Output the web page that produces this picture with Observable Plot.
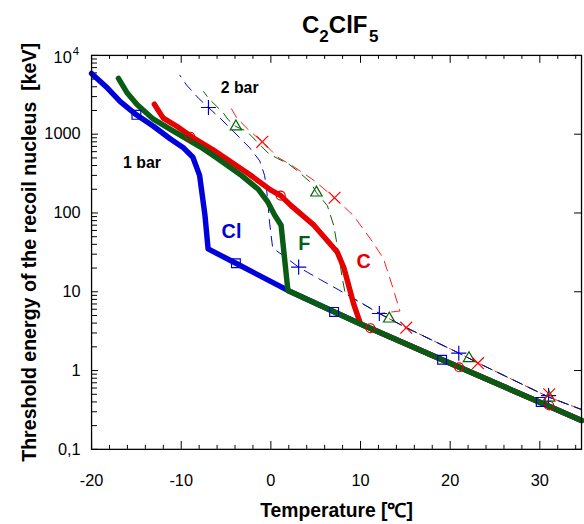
<!DOCTYPE html>
<html>
<head>
<meta charset="utf-8">
<script src="https://cdn.jsdelivr.net/npm/d3@7"></script>
<script src="https://cdn.jsdelivr.net/npm/@observablehq/plot@0.6"></script>
<style>
  body { margin: 0; background: #fff; font-family: "Liberation Sans", Arial, sans-serif; }
  #wrap { position: relative; width: 584px; height: 524px; overflow: hidden; background: #fff; }
  #titlebox { position: relative; width: 584px; height: 46px; }
  #title { position: absolute; left: 302px; top: 13px; font-weight: bold; font-size: 24px; line-height: 24px; white-space: nowrap; color: #000; }
  #title .sub { font-size: 17px; position: relative; top: 9px; }
  #chart svg { display: block; }
</style>
</head>
<body>
<div id="wrap">
  <div id="titlebox"><div id="title">C<span class="sub">2</span>ClF<span class="sub">&#8202;5</span></div></div>
  <div id="chart"></div>
</div>
<script>
// ---- data (x = temperature °C, y = threshold energy keV) ----
const common1bar = [[10, 3.9], [20, 1.24], [30, 0.395], [34.65, 0.232]];
const cl1bar = [[-20, 5900], [-18.2, 3820], [-16.8, 2590], [-15.0, 1760], [-13.1, 1260], [-11.2, 870],
  [-9.8, 680], [-8.7, 510], [-7.95, 300], [-7.35, 93], [-7.0, 35], [-3.9, 23], [1.9, 10.4]];
const f1bar = [[-17, 5100], [-16, 3300], [-14.9, 2360], [-13.1, 1550], [-11.2, 1150], [-9.4, 870],
  [-7.5, 650], [-6.1, 505], [-3.3, 300], [-1.4, 200], [-0.33, 137], [0.4, 95], [1.14, 70], [1.9, 10.4]];
const c1bar = [[-13, 2400], [-12, 1600], [-10.5, 1260], [-8.8, 920], [-6.5, 640], [-2.5, 315],
  [0, 195], [1.1, 166], [2.25, 124], [4.8, 70], [7.4, 32], [8.15, 20], [9.25, 6.9], [10, 3.9]];

const common2bar = [[12.1, 5.3], [15.1, 3.5], [21, 1.66], [23.1, 1.25], [31, 0.46], [34.65, 0.32]];
const cl2bar = [[-10.15, 5600], [-9.4, 4200], [-8.07, 2860], [-6.96, 2180], [-5.67, 1600], [-4.4, 1150],
  [-3.3, 860], [-2.35, 670], [-1.25, 460], [-0.7, 300], [-0.5, 210], [-0.3, 125], [-0.15, 77],
  [0.2, 36], [1.9, 26], [3.1, 20.5], [5.55, 14.2], [8.15, 9.7]];
const f2bar = [[-7.5, 3470], [-6.96, 2860], [-5.3, 1860], [-4.75, 1520], [-3.9, 1250], [-2.7, 1090],
  [-0.33, 580], [0.77, 490], [1.9, 425], [3.0, 340], [4.45, 244], [5.08, 181], [6.3, 124],
  [7.0, 70], [7.4, 39], [7.96, 15], [8.3, 9.4]];
const c2bar = [[-4.4, 2100], [-3.8, 1600], [-2.54, 1150], [-0.96, 800], [0.03, 620], [0.77, 510],
  [2.5, 390], [4.83, 258], [7.1, 156], [9.2, 93], [11.1, 47], [12.55, 26.6], [13.5, 12.3], [14.4, 5.7]];

// markers
const clSquares = [[-15.0, 1760], [-3.9, 23], [7.05, 5.55], [19.1, 1.37], [30.1, 0.40]];
const cCircles = [[-9.0, 930], [1.1, 166], [11.1, 3.45], [21.0, 1.10], [31.05, 0.36]];
const clPlus = [[-6.96, 2180], [3.1, 20.5], [12.1, 5.3], [20.96, 1.66], [30.97, 0.48]];
const fTriangles = [[-3.9, 1250], [5.08, 181], [13.2, 4.55], [22.1, 1.43], [31.05, 0.45]];
const cTimes = [[-0.96, 800], [7.1, 156], [15.1, 3.5], [23.1, 1.24], [31.05, 0.50]];

// ticks
const xMajor = [-20, -10, 0, 10, 20, 30];
const xMajorLabels = ["-20", "-10", "0", "10", "20", "30"];
const xMinor = [-18, -16, -14, -12, -8, -6, -4, -2, 2, 4, 6, 8, 12, 14, 16, 18, 22, 24, 26, 28, 32, 34];
const yMajor = [0.1, 1, 10, 100, 1000];
const yMajorLabels = ["0,1", "1", "10", "100", "1000"];
const yTop = [10000];
const yMinorMult = [2, 3, 4, 5, 6, 7, 8, 9];
const yDecades = [0.1, 1, 10, 100, 1000];

// annotations
const annotations = [
  {x: -14.37, y: 428, text: "1 bar", color: "#000", size: 16},
  {x: -3.48, y: 3850, text: "2 bar", color: "#000", size: 16},
  {x: -4.39, y: 58, text: "Cl", color: "#0000dd", size: 20},
  {x: 3.72, y: 41, text: "F", color: "#0a5c14", size: 20},
  {x: 10.34, y: 24.4, text: "C", color: "#e60000", size: 20}
];

const toPts = a => a.map(([x, y]) => ({x, y}));
const yMinor = yDecades.flatMap(d => yMinorMult.map(m => d * m));

const W = 590, H = 478;
const mL = 92, mR = 3, mT = 9, mB = 71;
const fw = W - mL - mR, fh = H - mT - mB;

const blueT = "#0000dd", greenT = "#0a5c14", redT = "#e60000";
const blueD = "#0000cc", greenD = "#006600", redD = "#ff1a1a";

const chart = Plot.plot({
  width: W, height: H,
  marginLeft: mL, marginRight: mR, marginTop: mT, marginBottom: mB,
  style: {fontFamily: "'Liberation Sans', Arial, sans-serif", background: "#fff", overflow: "visible"},
  x: {type: "linear", domain: [-20, 34.65], axis: null},
  y: {type: "log", domain: [0.1, 10000], axis: null},
  marks: [
    // ticks (inward)
    Plot.tickY(yMajor.concat(yTop), {y: d => d, insetRight: fw - 7, stroke: "#000", strokeWidth: 1}),
    Plot.tickY(yMinor, {y: d => d, insetRight: fw - 6, stroke: "#000", strokeWidth: 1}),
    Plot.tickY(yMajor.concat(yTop), {y: d => d, insetLeft: fw - 7, stroke: "#000", strokeWidth: 1}),
    Plot.tickX(xMajor, {x: d => d, insetTop: fh - 8, stroke: "#000", strokeWidth: 1}),
    Plot.tickX(xMinor, {x: d => d, insetTop: fh - 4, stroke: "#000", strokeWidth: 1}),
    Plot.tickX(xMajor, {x: d => d, insetBottom: fh - 8, stroke: "#000", strokeWidth: 1}),
    Plot.tickX(xMinor, {x: d => d, insetBottom: fh - 4, stroke: "#000", strokeWidth: 1}),
    // tick labels
    Plot.text(yMajor, {y: d => d, text: (d, i) => yMajorLabels[i], frameAnchor: "left", dx: -11, textAnchor: "end", lineAnchor: "middle", fontSize: 16.5, fill: "#000"}),
    Plot.text(yTop, {y: d => d, text: () => "10", frameAnchor: "left", dx: -20, dy: 2, textAnchor: "end", lineAnchor: "middle", fontSize: 16.5, fill: "#000"}),
    Plot.text(yTop, {y: d => d, text: () => "4", frameAnchor: "left", dx: -19, dy: -4, textAnchor: "start", lineAnchor: "middle", fontSize: 11.5, fill: "#000"}),
    Plot.text(xMajor, {x: d => d, text: (d, i) => xMajorLabels[i], frameAnchor: "bottom", dy: 32, textAnchor: "middle", lineAnchor: "middle", fontSize: 16.5, fill: "#000"}),
    // axis titles
    Plot.text(["Threshold energy of the recoil nucleus  [keV]"], {frameAnchor: "left", rotate: -90, dx: -62, textAnchor: "middle", lineAnchor: "middle", text: d => d, fontWeight: "bold", fontSize: 19.8, fill: "#000"}),
    Plot.text(["Temperature [\u2103]"], {frameAnchor: "bottom", dy: 62, textAnchor: "middle", lineAnchor: "middle", text: d => d, fontWeight: "bold", fontSize: 19.5, fill: "#000"}),
    // 2 bar dashed lines
    Plot.line(toPts(c2bar.concat(common2bar)), {x: "x", y: "y", stroke: redD, strokeWidth: 1, strokeDasharray: "10,7"}),
    Plot.line(toPts(f2bar.concat(common2bar)), {x: "x", y: "y", stroke: greenD, strokeWidth: 1, strokeDasharray: "10,7", strokeDashoffset: 4}),
    Plot.line(toPts(cl2bar.concat(common2bar)), {x: "x", y: "y", stroke: blueD, strokeWidth: 1, strokeDasharray: "10,7", strokeDashoffset: 8}),
    // 1 bar thick lines
    Plot.line(toPts(cl1bar.concat(common1bar)), {x: "x", y: "y", stroke: blueT, strokeWidth: 5.5, strokeLinejoin: "round"}),
    Plot.line(toPts(c1bar.concat(common1bar)), {x: "x", y: "y", stroke: redT, strokeWidth: 5.5, strokeLinejoin: "round"}),
    Plot.line(toPts(f1bar.concat(common1bar)), {x: "x", y: "y", stroke: greenT, strokeWidth: 5.5, strokeLinejoin: "round"}),
    // markers
    Plot.dot(toPts(clSquares), {x: "x", y: "y", symbol: "square", r: 5, stroke: blueD, fill: "none", strokeWidth: 1.2}),
    Plot.dot(toPts(cCircles), {x: "x", y: "y", symbol: "circle", r: 4.5, stroke: "#e00000", fill: "none", strokeWidth: 1.2}),
    Plot.dot(toPts(clPlus), {x: "x", y: "y", symbol: "plus", r: 5, stroke: blueD, fill: "none", strokeWidth: 1.2}),
    Plot.dot(toPts(fTriangles), {x: "x", y: "y", symbol: "triangle2", r: 5.5, stroke: greenD, fill: "none", strokeWidth: 1.2}),
    Plot.dot(toPts(cTimes), {x: "x", y: "y", symbol: "times", r: 5.5, stroke: "#ff0000", fill: "none", strokeWidth: 1.2}),
    // annotations
    Plot.text(annotations, {x: "x", y: "y", text: "text", fill: "color", fontSize: "size", fontWeight: "bold"}),
    // frame
    Plot.frame({stroke: "#000", strokeWidth: 1.3})
  ]
});
document.getElementById("chart").appendChild(chart);
</script>
</body>
</html>
